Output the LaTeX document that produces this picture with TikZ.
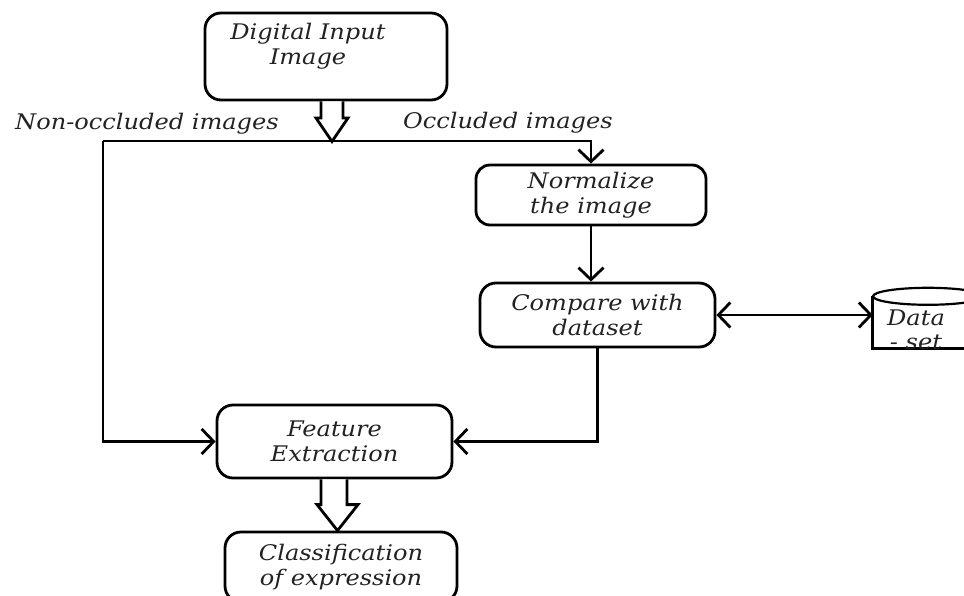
\documentclass[tikz,border=0pt]{standalone}
\usepackage{fontspec}
\newfontfamily\dfont{DejaVu Serif}[FakeStretch=1.12]
\usetikzlibrary{arrows.meta,calc}
\definecolor{txt}{HTML}{222222}
\tikzset{
  box/.style={draw, line width=2.8pt, rounded corners=16pt, align=center, inner sep=0pt,
    font=\dfont\itshape\fontsize{21.5}{24.5}\selectfont, text=txt},
  lbl/.style={inner sep=0pt, font=\dfont\itshape\fontsize{21.5}{24.5}\selectfont, text=txt},
  conn/.style={line width=2.8pt, -{Straight Barb[length=12pt,width=25pt,line width=2.8pt]}},
  both/.style={line width=2.8pt, {Straight Barb[length=12pt,width=25pt,line width=2.8pt]}-{Straight Barb[length=12pt,width=25pt,line width=2.8pt]}},
  plain/.style={line width=2.8pt},
  hollow/.style={line width=2.8pt, fill=white, line join=miter}
}
\begin{document}
\begin{tikzpicture}[x=1pt,y=-1pt]
\useasboundingbox (0,0) rectangle (964,596);
\clip (0,0) rectangle (964,596);
% boxes
\node[box, minimum width=242pt, minimum height=87pt] (dig) at (326,56.5) {};
\node[lbl, align=center] (digt) at (308,46) {Digital Input\\Image};
\node[box, minimum width=230pt, minimum height=60pt, rounded corners=14pt] (norm) at (591,195) {Normalize\\the image};
\node[box, minimum width=235pt, minimum height=64pt] (comp) at (597.5,315) {Compare with\\dataset};
\node[box, minimum width=235pt, minimum height=73pt] (feat) at (334.5,441.5) {Feature\\Extraction};
\node[box, minimum width=232pt, minimum height=70pt] (cls) at (341,567) {Classification\\of expression};
% database cylinder (cut off by the right edge)
\node[minimum width=110pt, minimum height=51.5pt, inner sep=0pt] (data) at (928,322.25) {};
\draw[plain] (data.north west) -- (data.south west) -- (data.south east);
\draw[line width=2.2pt] (data.north) ellipse [x radius=55pt, y radius=8.5pt];
\node[lbl, align=center] (datat) at (916,330) {Data\\- set};
% labels
\node[lbl] (nonocc) at (147,124) {Non-occluded images};
\node[lbl] (occ) at (508,123) {Occluded images};
% connectors
\coordinate (split) at (332,141);
\coordinate (lcorner) at (103,141);
\draw[plain] (lcorner) -- (split);
\draw[conn] (split) -| (norm.north);
\draw[conn] (lcorner) |- (feat.west);
\draw[conn] (norm.south) -- (norm.south |- comp.north);
\draw[conn] (comp.south) |- (feat.east);
\draw[both] (comp.east) -- (comp.east -| data.west);
% hollow block arrows
\draw[hollow] let \p1=(dig.south), \p2=(split) in
  (\x2-11pt,\y1) -- (\x2-11pt,\y2+23pt) -- (\x2-16pt,\y2+23pt) -- (\x2,\y2-0.5pt)
  -- (\x2+16pt,\y2+23pt) -- (\x2+11pt,\y2+23pt) -- (\x2+11pt,\y1);
\draw[hollow] let \p1=(feat.south), \p2=(cls.north) in
  (\x1-13.5pt,\y1) -- (\x1-13.5pt,\y2+26pt) -- (\x1-17.5pt,\y2+26pt) -- (\x1+3pt,\y2)
  -- (\x1+23.5pt,\y2+26pt) -- (\x1+12.5pt,\y2+26pt) -- (\x1+12.5pt,\y1);
\end{tikzpicture}
\end{document}
